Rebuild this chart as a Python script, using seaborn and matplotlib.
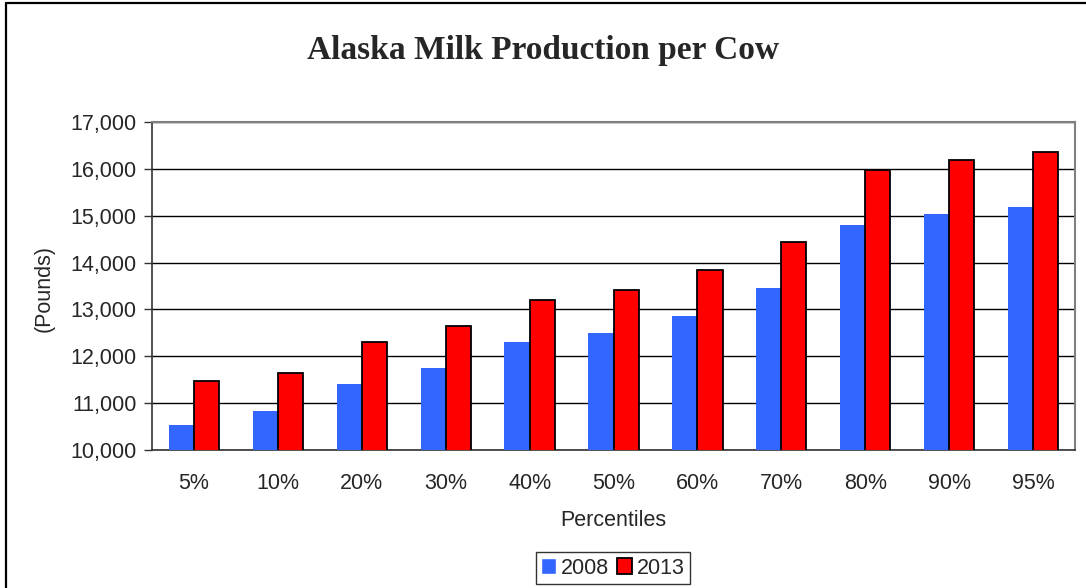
import pandas as pd
import matplotlib.pyplot as plt
import seaborn as sns
from matplotlib.lines import Line2D
from matplotlib.ticker import FuncFormatter

# Data
percentiles = ['5%', '10%', '20%', '30%', '40%', '50%', '60%', '70%', '80%', '90%', '95%']
prod_2008 = [10530, 10830, 11410, 11750, 12310, 12500, 12860, 13450, 14800, 15030, 15180]
prod_2013 = [11470, 11650, 12300, 12650, 13210, 13410, 13850, 14430, 15970, 16180, 16370]

df = pd.DataFrame({
    'Percentile': percentiles * 2,
    'Year': ['2008'] * len(percentiles) + ['2013'] * len(percentiles),
    'Pounds': prod_2008 + prod_2013,
})

sns.set_style('white')
plt.rcParams['font.family'] = ['Liberation Sans', 'DejaVu Sans']
FS = 15.5

fig = plt.figure(figsize=(10.86, 5.88), dpi=100)
ax = fig.add_axes([152 / 1086, 138 / 588, 923 / 1086, 328 / 588])

sns.barplot(data=df, x='Percentile', y='Pounds', hue='Year', order=percentiles,
            palette={'2008': '#3366FF', '2013': '#FF0000'}, width=0.6, gap=0,
            saturation=1, ax=ax, zorder=3)

# black outline on the 2013 bars only
for bar in ax.containers[1]:
    bar.set_edgecolor('black')
    bar.set_linewidth(1.3)
for bar in ax.containers[0]:
    bar.set_linewidth(0)

ax.set_ylim(10000, 17000)
ax.set_xlim(-0.5, len(percentiles) - 0.5)
ax.set_yticks(range(10000, 17001, 1000))
ax.yaxis.set_major_formatter(FuncFormatter(lambda v, p: f'{int(v):,}'))
ax.grid(axis='y', color='black', linewidth=1, zorder=0)
ax.set_axisbelow(True)

ax.set_xticks([i - 0.5 for i in range(len(percentiles) + 1)], minor=True)
ax.tick_params(axis='x', which='major', length=0, pad=16.5, labelsize=FS)
ax.tick_params(axis='x', which='minor', length=5, width=1, color='#333333', direction='out')
ax.tick_params(axis='y', length=6, width=1, color='#333333', direction='out', left=True,
               labelsize=FS, pad=5)

for side in ['left', 'bottom']:
    ax.spines[side].set_color('#333333')
    ax.spines[side].set_linewidth(1.2)
for side in ['top', 'right']:
    ax.spines[side].set_visible(True)
    ax.spines[side].set_color('#808080')
    ax.spines[side].set_linewidth(1.5)

ax.set_xlabel('Percentiles', fontsize=FS, labelpad=11.5)
ax.set_ylabel('')
fig.text(44 / 1086, 1 - 288 / 588, '(Pounds)', rotation=90, fontsize=FS,
         ha='center', va='center')
fig.text(0.5, 1 - 50 / 588, 'Alaska Milk Production per Cow', fontsize=24,
         fontweight='bold', family='Liberation Serif', ha='center', va='center')

leg = ax.legend(loc='center', bbox_to_anchor=(613 / 1086, 1 - 568 / 588),
                bbox_transform=fig.transFigure, ncol=2, frameon=True, fancybox=False,
                fontsize=FS, handlelength=0.7, handleheight=0.7, handletextpad=0.2,
                columnspacing=0.4, borderpad=0.25, borderaxespad=0, title=None)
leg.get_frame().set_edgecolor('black')
leg.get_frame().set_linewidth(1)
leg.legend_handles[1].set_edgecolor('black')
leg.legend_handles[1].set_linewidth(1.3)

# chart border: only the left and top edges fall inside the image
fig.add_artist(Line2D([5.5 / 1086, 5.5 / 1086], [0, 1 - 3 / 588], transform=fig.transFigure,
                      color='black', linewidth=1.6))
fig.add_artist(Line2D([5.5 / 1086, 1], [1 - 3 / 588, 1 - 3 / 588], transform=fig.transFigure,
                      color='black', linewidth=1.6))

fig.savefig('out.png', dpi=100, facecolor='white')
